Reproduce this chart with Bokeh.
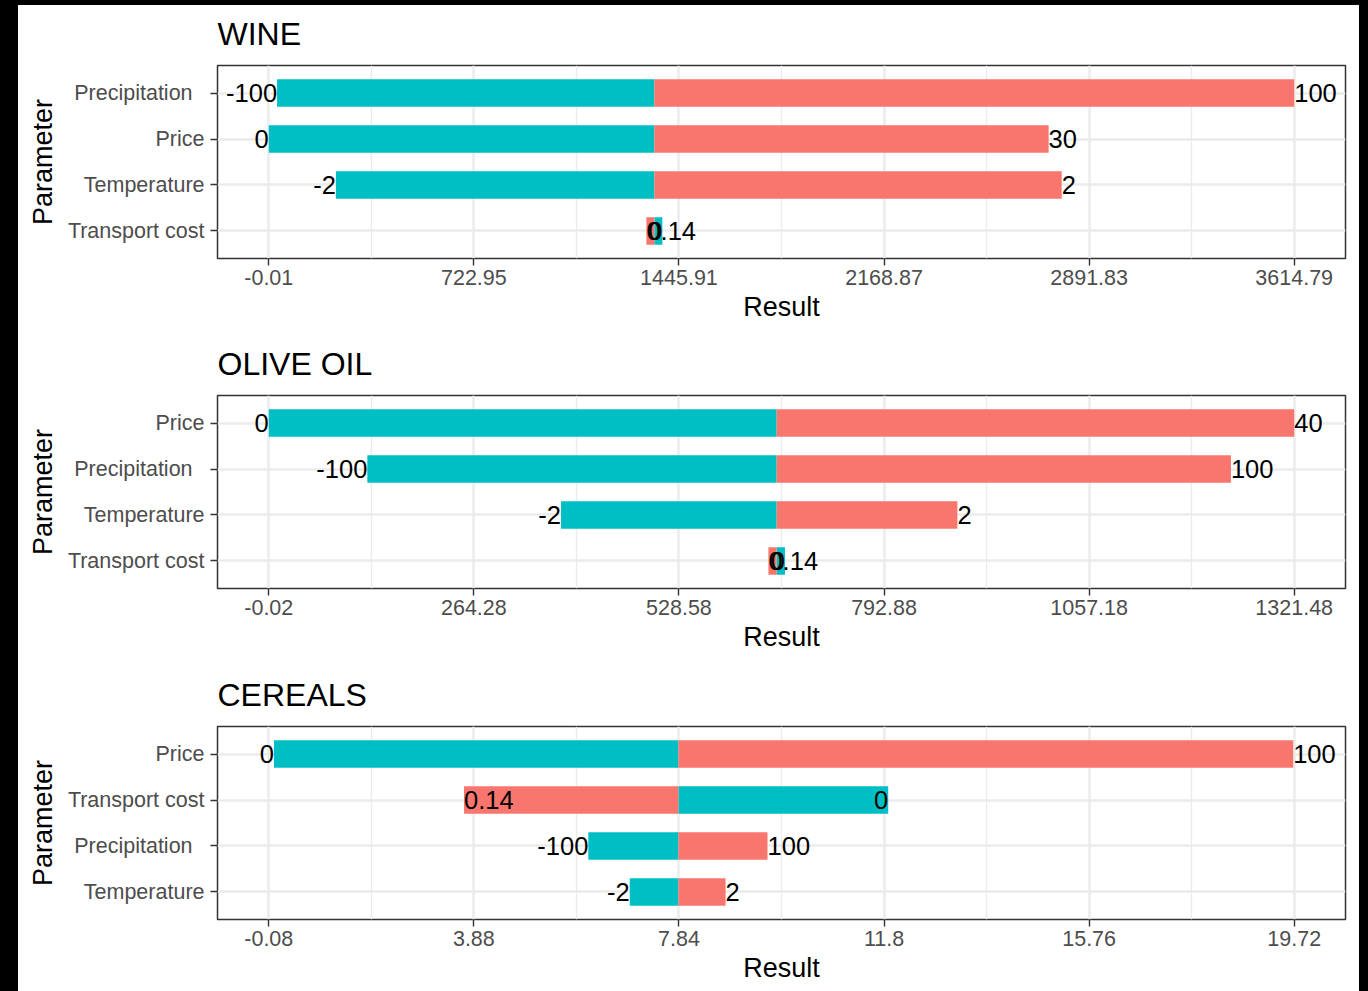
from bokeh.plotting import figure
from bokeh.layouts import column
from bokeh.models import FactorRange, Range1d, FixedTicker, ColumnDataSource, GlobalInlineStyleSheet
from bokeh.core.properties import value
from bokeh.embed import file_html
from bokeh.resources import INLINE

TEAL = "#00BFC4"
RED = "#F8766D"
FONT = "Liberation Sans"

# ---------------- data ----------------
PRECIP = "Precipitation\u00a0\u00a0\u200b"   # label carries trailing spaces in the original

wine_title = "WINE"
wine_params = [PRECIP, "Price", "Temperature", "Transport cost"]
wine_low_in = ["-100", "0", "-2", "0"]
wine_high_in = ["100", "30", "2", "0.14"]
wine_low_res = [29.2, -0.01, 236.8, 1387.4]
wine_high_res = [3614.79, 2749.0, 2795.0, 1331.1]
wine_base = 1359.3
wine_ticks = [-0.01, 722.95, 1445.91, 2168.87, 2891.83, 3614.79]
wine_tick_labels = ["-0.01", "722.95", "1445.91", "2168.87", "2891.83", "3614.79"]

olive_title = "OLIVE OIL"
olive_params = ["Price", PRECIP, "Temperature", "Transport cost"]
olive_low_in = ["0", "-100", "-2", "0"]
olive_high_in = ["40", "100", "2", "0.14"]
olive_low_res = [-0.02, 127.0, 376.6, 665.2]
olive_high_res = [1321.48, 1239.9, 887.4, 643.9]
olive_base = 654.5
olive_ticks = [-0.02, 264.28, 528.58, 792.88, 1057.18, 1321.48]
olive_tick_labels = ["-0.02", "264.28", "528.58", "792.88", "1057.18", "1321.48"]

cereal_title = "CEREALS"
cereal_params = ["Price", "Transport cost", PRECIP, "Temperature"]
cereal_low_in = ["0", "0", "-100", "-2"]
cereal_high_in = ["100", "0.14", "100", "2"]
cereal_low_res = [0.02, 11.88, 6.09, 6.89]
cereal_high_res = [19.70, 3.69, 9.55, 8.74]
cereal_base = 7.83
cereal_ticks = [-0.08, 3.88, 7.84, 11.8, 15.76, 19.72]
cereal_tick_labels = ["-0.08", "3.88", "7.84", "11.8", "15.76", "19.72"]

FRAME_W = 1128
FRAME_H = 193
TOP = 68


def make_panel(title, params, low_in, high_in, low_res, high_res, base, ticks, tick_labels, height):
    factors = list(reversed(params))
    span = ticks[-1] - ticks[0]
    p = figure(
        y_range=FactorRange(factors=factors, range_padding=0.1, range_padding_units="absolute"),
        x_range=Range1d(ticks[0] - 0.05 * span, ticks[-1] + 0.05 * span),
        frame_width=FRAME_W, frame_height=FRAME_H,
        min_border_left=199, min_border_right=14, min_border_top=TOP,
        min_border_bottom=height - TOP - FRAME_H,
        output_backend="svg", toolbar_location=None,
        title=title,
    )
    p.background_fill_color = "white"
    p.border_fill_color = "white"
    p.outline_line_color = "#333333"
    p.outline_line_width = 1.5

    p.title.text_font = FONT
    p.title.text_font_size = "32px"
    p.title.text_font_style = "normal"
    p.title.text_color = "black"
    p.title.align = "left"
    p.title.offset = 0
    p.title.standoff = 28

    src = ColumnDataSource(dict(param=params, low_in=low_in, high_in=high_in,
                                low_res=low_res, high_res=high_res))
    p.hbar(y="param", left=base, right="low_res", height=0.6, source=src,
           fill_color=TEAL, line_color=None)
    p.hbar(y="param", left=base, right="high_res", height=0.6, source=src,
           fill_color=RED, line_color=None)
    p.text(x="low_res", y="param", text="low_in", source=src, text_align="right",
           text_baseline="middle", text_font=value(FONT), text_font_size="25.5px",
           text_color="black")
    p.text(x="high_res", y="param", text="high_in", source=src, text_align="left",
           text_baseline="middle", text_font=value(FONT), text_font_size="25.5px",
           text_color="black")

    minor = [(a + b) / 2 for a, b in zip(ticks[:-1], ticks[1:])]
    ticker = FixedTicker(ticks=ticks, minor_ticks=minor)
    p.xaxis.ticker = ticker
    p.xaxis.major_label_overrides = {t: s for t, s in zip(ticks, tick_labels)}
    p.xgrid.ticker = ticker
    p.xgrid.grid_line_color = "#EBEBEB"
    p.xgrid.grid_line_width = 2.4
    p.xgrid.minor_grid_line_color = "#EBEBEB"
    p.xgrid.minor_grid_line_width = 1.3
    p.ygrid.grid_line_color = "#EBEBEB"
    p.ygrid.grid_line_width = 2.4

    p.xaxis.axis_label = "Result"
    p.yaxis.axis_label = "Parameter"
    for ax in (p.xaxis[0], p.yaxis[0]):
        ax.axis_line_color = None
        ax.major_tick_line_color = "#333333"
        ax.major_tick_line_width = 1.4
        ax.major_tick_out = 7
        ax.major_tick_in = 0
        ax.minor_tick_line_color = None
        ax.major_label_text_font = FONT
        ax.major_label_text_font_size = "21.5px"
        ax.major_label_text_color = "#4D4D4D"
        ax.axis_label_text_font = FONT
        ax.axis_label_text_font_size = "27px"
        ax.axis_label_text_font_style = "normal"
        ax.axis_label_text_color = "black"
    p.xaxis.major_label_standoff = 4
    p.xaxis.axis_label_standoff = 4
    p.yaxis.major_label_standoff = 6
    p.yaxis.axis_label_standoff = 7
    return p


p1 = make_panel(wine_title, wine_params, wine_low_in, wine_high_in, wine_low_res,
                wine_high_res, wine_base, wine_ticks, wine_tick_labels, 330)
p2 = make_panel(olive_title, olive_params, olive_low_in, olive_high_in, olive_low_res,
                olive_high_res, olive_base, olive_ticks, olive_tick_labels, 331)
p3 = make_panel(cereal_title, cereal_params, cereal_low_in, cereal_high_in, cereal_low_res,
                cereal_high_res, cereal_base, cereal_ticks, cereal_tick_labels, 333)

page_css = GlobalInlineStyleSheet(css="html, body { background-color: #000000 !important; margin: 0 !important; padding: 0 !important; }")
layout = column(p1, p2, p3, spacing=0,
                styles={"margin-left": "18px", "margin-top": "-3px",
                        "clip-path": "inset(8px 0px 0px 0px)",
                        "background-color": "white"},
                stylesheets=[page_css])

open("out.html", "w").write(file_html(layout, INLINE))
